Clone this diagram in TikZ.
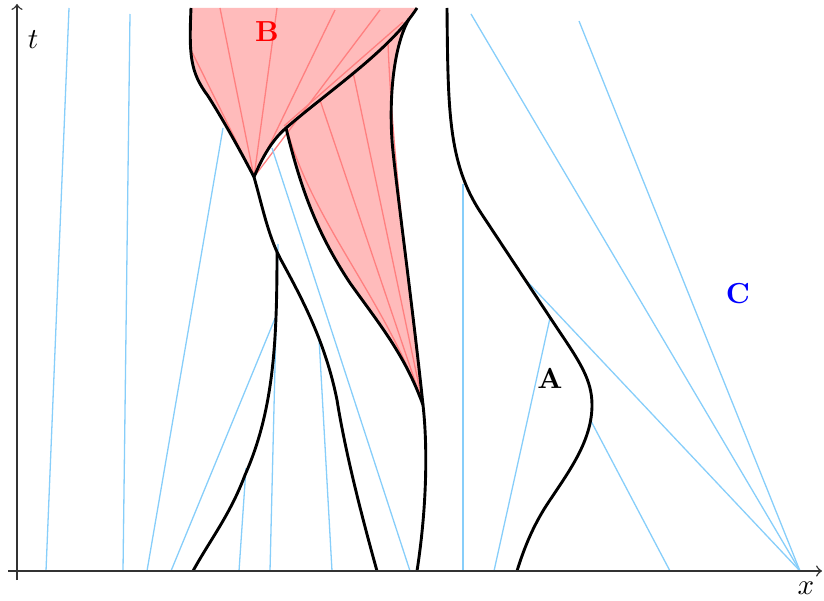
\documentclass[tikz,border=0pt]{standalone}
\definecolor{rayblue}{RGB}{135,206,250}
\definecolor{fanred}{RGB}{255,128,128}
\definecolor{lobefill}{RGB}{255,187,187}
\begin{document}
\begin{tikzpicture}[x=0.345pt,y=-0.345pt,
  charline/.style={line width=1pt,black},
  ray/.style={line width=0.45pt,rayblue},
  fanline/.style={line width=0.45pt,fanred},
  axisline/.style={->,line width=0.5pt,black!80},
  lbl/.style={font=\bfseries}]
\useasboundingbox (0,0) rectangle (824,601);
% key points
\coordinate (cusp) at (254,177);
\coordinate (kink) at (286,128);
\coordinate (branch) at (409,19);
\coordinate (bot) at (423,405);
\coordinate (C0) at (800,571);
% fills
\fill[lobefill] (191,8) -- (417,8)
  .. controls (390,50) and (330,90) .. (kink)
  .. controls (272,140) and (262,158) .. (cusp)
  .. controls (240,150) and (222,118) .. (208,96)
  .. controls (190,72) and (189,55) .. (191,8) -- cycle;
\fill[lobefill] (kink) .. controls (330,90) and (385,50) .. (branch)
  .. controls (394,45) and (389,95) .. (392,140)
  .. controls (394,170) and (412,300) .. (bot)
  .. controls (405,355) and (380,325) .. (350,283)
  .. controls (315,230) and (300,185) .. (kink) -- cycle;
% fan lines in B
\draw[fanline] (192,52) -- (cusp);
\draw[fanline] (220,8) -- (cusp);
\draw[fanline] (277,8) -- (cusp);
\draw[fanline] (335,10) -- (cusp);
\draw[fanline] (380,10) -- (cusp);
\draw[fanline] (403,22) -- (284,126);
\draw[fanline] (320,100) -- (bot);
\draw[fanline] (353,72) -- (bot);
\draw[fanline] (388,43) .. controls (391,120) and (400,220) .. (bot);
\draw[fanline] (288,133) .. controls (315,225) and (385,300) .. (bot);
% blue rays
\draw[ray] (46,571) -- (69,8);
\draw[ray] (123,571) -- (130,14);
\draw[ray] (147,571) -- (223,128);
\draw[ray] (171,571) -- (276,316);
\draw[ray] (239,571) -- (246,468);
\draw[ray] (270,571) -- (278,244);
\draw[ray] (332,571) -- (319,338);
\draw[ray] (410,571) -- (272,148);
\draw[ray] (463,571) -- (463,184);
\draw[ray] (494,571) -- (550,318);
\draw[ray] (522,276) -- (C0);
\draw[ray] (591,421) -- (670,571);
\draw[ray] (471,14) -- (C0);
\draw[ray] (579,21) -- (C0);
% black curves
\draw[charline] (191,8) .. controls (189,55) and (190,72) .. (208,96)
  .. controls (222,118) and (240,150) .. (cusp);
\draw[charline] (cusp) .. controls (262,158) and (272,140) .. (kink)
  .. controls (330,90) and (390,50) .. (417,8);
\draw[charline] (branch) .. controls (394,45) and (389,95) .. (392,140)
  .. controls (394,170) and (412,300) .. (bot)
  .. controls (427,440) and (428,500) .. (417,571);
\draw[charline] (kink) .. controls (300,185) and (315,230) .. (350,283)
  .. controls (380,325) and (405,355) .. (bot);
\draw[charline] (cusp) .. controls (262,205) and (268,235) .. (280,258)
  .. controls (300,295) and (325,340) .. (337,400)
  .. controls (345,450) and (360,510) .. (377,571);
\draw[charline] (277,252) .. controls (277,340) and (274,410) .. (245,475)
  .. controls (230,515) and (210,540) .. (193,571);
\draw[charline] (447,8) .. controls (448,110) and (448,163) .. (481,213)
  -- (557,328) .. controls (580,362) and (592,380) .. (592,405)
  .. controls (592,440) and (570,470) .. (550,500)
  .. controls (535,522) and (525,545) .. (517,571);
% axes
\draw[axisline] (8,571) -- (822,571);
\draw[axisline] (17,580) -- (17,4);
\node (tl) at (33,40) {$t$};
\node (xl) at (806,588) {$x$};
\node[lbl,red] (B) at (267,32) {B};
\node[lbl,black] (A) at (550,378) {A};
\node[lbl,blue] (C) at (738,294) {C};
\end{tikzpicture}
\end{document}
